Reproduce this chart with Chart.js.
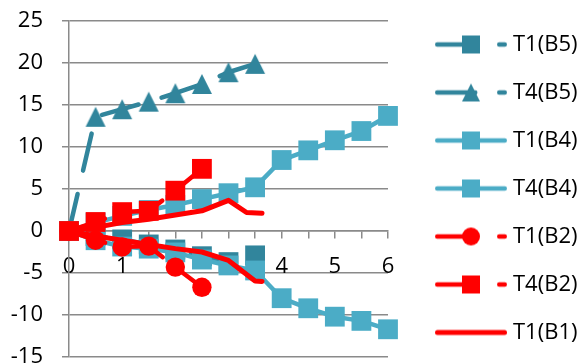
<!DOCTYPE html>
<html>
<head>
<meta charset="utf-8">
<script src="https://cdn.jsdelivr.net/npm/chart.js@4/dist/chart.umd.min.js"></script>
<style>
html,body{margin:0;padding:0;background:#fff;}
#wrap{width:584px;height:364px;position:relative;}
</style>
</head>
<body>
<div id="wrap"><canvas id="c" width="584" height="364"></canvas></div>
<script>
// ---- data ----
const seriesLabels = ['T1(B5)', 'T4(B5)', 'T1(B4)', 'T4(B4)', 'T1(B2)', 'T4(B2)', 'T1(B1)', 'T4(B1)'];
const xB5 = [0, 0.5, 1, 1.5, 2, 2.5, 3, 3.5];
const yT1B5 = [0, -0.6, -1.0, -1.6, -2.2, -3.0, -3.7, -2.9];
const yT4B5 = [0, 13.6, 14.5, 15.4, 16.4, 17.5, 18.9, 19.9];
const xB4 = [0, 0.5, 1, 1.5, 2, 2.5, 3, 3.5, 4, 4.5, 5, 5.5, 6];
const yT1B4 = [0, -1.1, -1.85, -2.1, -2.55, -3.4, -4.1, -4.7, -8.0, -9.2, -10.2, -10.7, -11.7];
const yT4B4 = [0, 1.0, 1.8, 2.5, 3.1, 3.8, 4.5, 5.2, 8.45, 9.6, 10.8, 11.9, 13.7];
const xB2 = [0, 0.5, 1, 1.5, 2, 2.5];
const yT1B2 = [0, -1.1, -1.9, -1.8, -4.3, -6.7];
const yT4B2 = [0, 1.07, 2.25, 2.4, 4.8, 7.4];
const xT1B1 = [0, 0.5, 1, 1.5, 2, 2.5, 3, 3.5, 3.63];
const yT1B1 = [0, -0.6, -1.1, -1.6, -2.1, -2.5, -3.5, -5.95, -6.0];
const xT4B1 = [0, 0.5, 1, 1.5, 2, 2.5, 3, 3.34, 3.63];
const yT4B1 = [0, 0.45, 1.0, 1.4, 1.9, 2.4, 3.65, 2.2, 2.1];
const yTicks = [-15, -10, -5, 0, 5, 10, 15, 20, 25];
const xTickLabels = ['0', '1', '2', '3', '4', '5', '6'];

// ---- styles ----
const DARK = '#31859C';
const LIGHT = '#4BACC6';
const RED = '#FF0000';
const GRID = '#8A8A8A';
const FONT = {family: '"Open Sans", "Liberation Sans", sans-serif', size: 22};
const DASH = [38, 24];
const LW = 4.5;

function toXY(xs, ys) { return xs.map((x, i) => ({x: x, y: ys[i]})); }

function triangleImage(color, size) {
  const c = document.createElement('canvas');
  c.width = size + 2; c.height = size + 2;
  const g = c.getContext('2d');
  g.fillStyle = color;
  g.beginPath();
  g.moveTo(1 + size / 2, 1);
  g.lineTo(1 + size, 1 + size);
  g.lineTo(1, 1 + size);
  g.closePath();
  g.fill();
  return c;
}

function legendIcon(color, dash, marker, lw) {
  const W = 98, H = 24, cx = 62, cy = 12, m = 18, x0 = 26;
  const c = document.createElement('canvas');
  c.width = W; c.height = H;
  const g = c.getContext('2d');
  g.strokeStyle = color;
  g.lineWidth = lw;
  g.lineCap = 'round';
  g.setLineDash(dash || []);
  g.beginPath();
  g.moveTo(x0 + lw / 2, cy);
  g.lineTo(W - lw / 2, cy);
  g.stroke();
  g.setLineDash([]);
  g.fillStyle = color;
  if (marker === 'rect') {
    g.fillRect(cx - m / 2, cy - m / 2, m, m);
  } else if (marker === 'circle') {
    g.beginPath(); g.arc(cx, cy, m / 2, 0, Math.PI * 2); g.fill();
  } else if (marker === 'triangle') {
    g.beginPath();
    g.moveTo(cx, cy - m / 2);
    g.lineTo(cx + m / 2, cy + m / 2);
    g.lineTo(cx - m / 2, cy + m / 2);
    g.closePath(); g.fill();
  }
  return c;
}

const triDark = triangleImage(DARK, 20);

const styles = [
  {color: DARK, dash: DASH, marker: 'rect', lw: LW},
  {color: DARK, dash: DASH, marker: 'triangle', lw: LW},
  {color: LIGHT, dash: null, marker: 'rect', lw: LW},
  {color: LIGHT, dash: null, marker: 'rect', lw: LW},
  {color: RED, dash: DASH, marker: 'circle', lw: LW},
  {color: RED, dash: DASH, marker: 'rect', lw: LW},
  {color: RED, dash: null, marker: null, lw: 5},
  {color: RED, dash: null, marker: null, lw: 5}
];
const seriesData = [
  toXY(xB5, yT1B5), toXY(xB5, yT4B5),
  toXY(xB4, yT1B4), toXY(xB4, yT4B4),
  toXY(xB2, yT1B2), toXY(xB2, yT4B2),
  toXY(xT1B1, yT1B1), toXY(xT4B1, yT4B1)
];
const legendIcons = styles.map(s => legendIcon(s.color, s.dash, s.marker, s.lw));

const datasets = seriesLabels.map((label, i) => {
  const s = styles[i];
  let pointStyle = 'circle', radius = 0;
  if (s.marker === 'rect') { pointStyle = 'rect'; radius = 14; }
  else if (s.marker === 'circle') { pointStyle = 'circle'; radius = 9.7; }
  else if (s.marker === 'triangle') { pointStyle = triDark; radius = 10; }
  return {
    label: label,
    data: seriesData[i],
    borderColor: s.color,
    backgroundColor: s.color,
    borderWidth: s.lw,
    borderDash: s.dash || [],
    borderCapStyle: 'round',
    borderJoinStyle: 'round',
    pointStyle: pointStyle,
    pointRadius: radius,
    pointHoverRadius: radius,
    pointBackgroundColor: s.color,
    pointBorderColor: s.color,
    pointBorderWidth: 0,
    showLine: true,
    tension: 0,
    clip: false,
    order: seriesLabels.length - 1 - i
  };
});

new Chart(document.getElementById('c'), {
  type: 'scatter',
  data: {datasets: datasets},
  options: {
    responsive: false,
    animation: false,
    events: [],
    devicePixelRatio: 1,
    layout: {autoPadding: false, padding: {left: 0, right: 0, top: 6.5, bottom: -6.5}},
    scales: {
      x: {
        type: 'linear',
        position: {y: 0},
        min: 0, max: 6,
        grid: {drawOnChartArea: false, drawTicks: true, tickLength: 7, color: GRID, lineWidth: 1.5},
        border: {display: true, color: GRID, width: 1.5},
        ticks: {
          stepSize: 0.5, autoSkip: false, maxRotation: 0, minRotation: 0,
          padding: 16, color: '#000', font: FONT,
          callback: (v) => Number.isInteger(v) ? xTickLabels[v] : ''
        }
      },
      y: {
        type: 'linear',
        position: 'left',
        min: yTicks[0], max: yTicks[yTicks.length - 1],
        grid: {drawTicks: true, tickLength: 7, color: GRID, lineWidth: 1.5},
        border: {display: true, color: GRID, width: 1.5},
        ticks: {stepSize: 5, padding: 19, color: '#000', font: FONT},
        afterBuildTicks: (s) => { s.ticks = yTicks.map(v => ({value: v})); },
        afterFit: (s) => {
          s.width = 69;
          s.paddingTop = 21;
          s.paddingBottom = 7;
          s.paddingLeft = 0;
          s.paddingRight = 0;
        }
      }
    },
    plugins: {
      tooltip: {enabled: false},
      legend: {
        display: true,
        position: 'right',
        align: 'center',
        maxWidth: 196,
        labels: {
          usePointStyle: true,
          pointStyleWidth: 88,
          padding: 26,
          color: '#000',
          font: FONT,
          generateLabels: (chart) => {
            const items = Chart.defaults.plugins.legend.labels.generateLabels(chart);
            items.forEach(it => { it.pointStyle = legendIcons[it.datasetIndex]; });
            return items;
          },
          filter: (it) => it.datasetIndex < 7,
          sort: (a, b) => a.datasetIndex - b.datasetIndex
        }
      }
    }
  }
});
</script>
</body>
</html>
